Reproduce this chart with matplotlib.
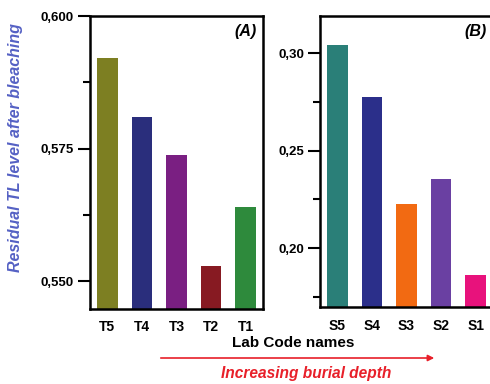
import numpy as np
import matplotlib
matplotlib.use("Agg")
import matplotlib.pyplot as plt
from matplotlib.ticker import FixedLocator, FuncFormatter

plt.rcParams['font.family'] = ['Liberation Sans', 'DejaVu Sans']

# residual TL after bleaching, two sample series
labels_a = ['T5', 'T4', 'T3', 'T2', 'T1']
values_a = [0.5921, 0.5810, 0.5739, 0.5530, 0.5640]
colors_a = ['#7d7f22', '#2a2e7c', '#7a1f82', '#871a22', '#2e8a3c']

labels_b = ['S5', 'S4', 'S3', 'S2', 'S1']
values_b = [0.3041, 0.2774, 0.2226, 0.2354, 0.1863]
colors_b = ['#2a7f78', '#2b2f8a', '#f26a12', '#6a40a2', '#e8127c']

fig = plt.figure(figsize=(4.9, 3.84), dpi=100)
ax_a = fig.add_axes([0.1837, 0.1966, 0.353, 0.7617])
ax_b = fig.add_axes([0.6531, 0.1993, 0.353, 0.7590])


def comma(dec):
    return FuncFormatter(lambda v, p: f"{v:.{dec}f}".replace('.', ','))


def style(ax, labels, values, colors, ylim, major, minor, dec, tag, tag_x):
    x = np.arange(len(labels))
    ax.bar(x, values, width=0.6, color=colors, edgecolor='none')
    ax.set_xlim(-0.5, 4.5)
    ax.set_ylim(*ylim)
    ax.set_xticks(x)
    ax.set_xticklabels(labels, fontsize=10, fontweight='bold')
    ax.tick_params(axis='x', length=0, pad=8)
    ax.yaxis.set_major_locator(FixedLocator(major))
    ax.yaxis.set_minor_locator(FixedLocator(minor))
    ax.yaxis.set_major_formatter(comma(dec))
    ax.tick_params(axis='y', which='major', length=8.5, width=1.5, labelsize=9.5, pad=3)
    ax.tick_params(axis='y', which='minor', length=5, width=1.5)
    for lbl in ax.get_yticklabels():
        lbl.set_fontweight('bold')
    for sp in ax.spines.values():
        sp.set_linewidth(1.8)
    ax.text(tag_x, 0.948, tag, transform=ax.transAxes, ha='right', va='center',
            fontsize=11.5, fontweight='bold', fontstyle='italic')


style(ax_a, labels_a, values_a, colors_a, (0.5449, 0.600),
      [0.550, 0.575, 0.600], [0.5625, 0.5875], 3, '(A)', 0.965)
style(ax_b, labels_b, values_b, colors_b, (0.1695, 0.319),
      [0.20, 0.25, 0.30], [0.175, 0.225, 0.275], 2, '(B)', 0.965)

fig.text(0.031, 0.615, 'Residual TL level after bleaching', rotation=90,
         ha='center', va='center', fontsize=11.5, fontweight='bold',
         fontstyle='italic', color='#5561c4')
fig.text(0.598, 0.107, 'Lab Code names', ha='center', va='center',
         fontsize=11, fontweight='bold')
fig.add_artist(matplotlib.patches.FancyArrowPatch(
    (158 / 490, 0.0677), (437 / 490, 0.0677), transform=fig.transFigure,
    arrowstyle='-|>', mutation_scale=9, color='#e8202a', lw=1.2))
fig.text(0.624, 0.0286, 'Increasing burial depth', ha='center', va='center',
         fontsize=11.2, fontweight='bold', fontstyle='italic', color='#e8202a')

fig.savefig('out.png', dpi=100)
